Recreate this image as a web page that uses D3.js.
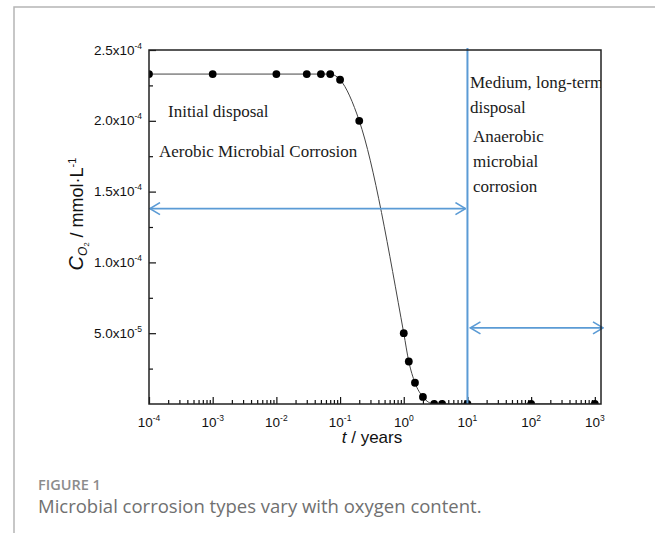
<!DOCTYPE html>
<html lang="en">
<head>
<meta charset="UTF-8">
<title>Oxygen content vs time</title>
<style>
  body { margin: 0; background: #fff; }
  svg text { font-family: "Liberation Sans", Arial, sans-serif; fill: #111; }
  .note { font-family: "Liberation Serif", "Times New Roman", serif; font-size: 17px; fill: #1a1a1a; }
  .caption { font-family: "Open Sans", "Noto Sans", sans-serif; }
</style>
</head>
<body>
<svg id="chart" width="655" height="533"></svg>
<script src="https://cdn.jsdelivr.net/npm/d3@7"></script>
<script>
// time in years, dissolved O2 in mmol/L
const years  = [1e-4, 1e-3, 1e-2, 0.03, 0.05, 0.07, 0.1, 0.2, 1, 1.2, 1.5, 2, 3, 4, 10, 100, 1000];
const oxygen = [2.33e-4, 2.33e-4, 2.33e-4, 2.33e-4, 2.33e-4, 2.33e-4, 2.29e-4, 2.0e-4,
                5.0e-5, 3.0e-5, 1.5e-5, 5e-6, 0, 0, 0, 0, 0];

const xTickExps = [-4, -3, -2, -1, 0, 1, 2, 3];
const yTicks = [5e-5, 1e-4, 1.5e-4, 2e-4, 2.5e-4];
const yTickMant = ["5.0", "1.0", "1.5", "2.0", "2.5"];
const yTickExp = ["-5", "-4", "-4", "-4", "-4"];

const phaseSplit = 10;              // years, aerobic -> anaerobic
const arrowLevels = [1.38e-4, 5.38e-5];
const leftNotes = ["Initial disposal", "Aerobic Microbial Corrosion"];
const rightNotes = ["Medium, long-term", "disposal", "Anaerobic", "microbial", "corrosion"];

const blue = "#5b9bd5";
const plot = { left: 149, right: 601, top: 50, bottom: 404 };

const svg = d3.select("#chart");

// page frame
svg.append("path")
    .attr("d", "M14,533 V7 H655")
    .attr("fill", "none")
    .attr("stroke", "#b5b5b5")
    .attr("stroke-width", 1.5);

const x = d3.scaleLog()
    .domain([1e-4, 1250])
    .range([plot.left, plot.right]);

const y = d3.scaleLinear()
    .domain([0, 2.5e-4])
    .range([plot.bottom, plot.top]);

svg.append("clipPath").attr("id", "clip")
    .append("rect")
    .attr("x", plot.left).attr("y", plot.top)
    .attr("width", plot.right - plot.left).attr("height", plot.bottom - plot.top);

// ticks (inward)
const majorX = xTickExps.map(e => Math.pow(10, e));
const minorX = [];
xTickExps.forEach(e => { for (let k = 2; k < 10; k++) { let v = k * Math.pow(10, e); if (v < 1250) minorX.push(v); } });

svg.append("g")
    .attr("transform", `translate(0,${plot.bottom})`)
    .call(d3.axisBottom(x).tickValues(majorX).tickSize(-7).tickFormat(""))
    .call(g => g.select(".domain").remove());
svg.append("g")
    .attr("transform", `translate(0,${plot.bottom})`)
    .call(d3.axisBottom(x).tickValues(minorX).tickSize(-4).tickFormat(""))
    .call(g => g.select(".domain").remove());

const minorY = d3.range(2.5e-5, 2.5e-4, 5e-5);
svg.append("g")
    .attr("transform", `translate(${plot.left},0)`)
    .call(d3.axisLeft(y).tickValues(yTicks).tickSize(-7).tickFormat(""))
    .call(g => g.select(".domain").remove());
svg.append("g")
    .attr("transform", `translate(${plot.left},0)`)
    .call(d3.axisLeft(y).tickValues(minorY).tickSize(-4).tickFormat(""))
    .call(g => g.select(".domain").remove());

svg.selectAll(".tick line").attr("stroke", "#111").attr("stroke-width", 1.2);

// x tick labels
const xl = svg.append("g").selectAll("text")
    .data(xTickExps).join("text")
    .attr("x", e => x(Math.pow(10, e)))
    .attr("y", plot.bottom + 23)
    .attr("text-anchor", "middle")
    .attr("font-size", 13.5);
xl.append("tspan").text("10");
xl.append("tspan").attr("dy", -6).attr("font-size", 8.5).text(e => e);

// y tick labels
const yl = svg.append("g").selectAll("text")
    .data(yTicks).join("text")
    .attr("x", plot.left - 7)
    .attr("y", d => y(d) + 4.5)
    .attr("text-anchor", "end")
    .attr("font-size", 13.5);
yl.append("tspan").text((d, i) => yTickMant[i] + "x10");
yl.append("tspan").attr("dy", -6).attr("font-size", 8.5).text((d, i) => yTickExp[i]);

// axis titles
const xt = svg.append("text")
    .attr("x", 372).attr("y", 443)
    .attr("text-anchor", "middle")
    .attr("font-size", 17);
xt.append("tspan").attr("font-style", "italic").text("t");
xt.append("tspan").text(" / years");

const yt = svg.append("text")
    .attr("transform", "translate(83,214) rotate(-90)")
    .attr("text-anchor", "middle")
    .attr("font-size", 18);
yt.append("tspan").attr("font-style", "italic").attr("font-size", 20).text("C");
yt.append("tspan").attr("font-style", "italic").attr("font-size", 12).attr("dy", 4).text("O");
yt.append("tspan").attr("font-size", 7.5).attr("dy", 2).text("2");
yt.append("tspan").attr("dy", -6).text(" / mmol·L");
yt.append("tspan").attr("font-size", 11).attr("dy", -7).text("-1");

// curve + points
const pts = years.map((t, i) => ({ t, c: oxygen[i] }));
const plotArea = svg.append("g").attr("clip-path", "url(#clip)");

plotArea.append("path")
    .datum(pts)
    .attr("fill", "none")
    .attr("stroke", "#444")
    .attr("stroke-width", 1)
    .attr("d", d3.line().x(d => x(d.t)).y(d => y(d.c)).curve(d3.curveMonotoneX));

plotArea.selectAll("circle")
    .data(pts).join("circle")
    .attr("cx", d => x(d.t))
    .attr("cy", d => y(d.c))
    .attr("r", 3.9)
    .attr("fill", "#000");

// notes
svg.append("g").selectAll("text")
    .data(leftNotes).join("text")
    .attr("class", "note")
    .attr("x", (d, i) => i === 0 ? 168 : 159)
    .attr("y", (d, i) => 117 + i * 40)
    .text(d => d);

plotArea.append("g").selectAll("text")
    .data(rightNotes).join("text")
    .attr("class", "note")
    .attr("x", (d, i) => i < 2 ? 470 : 473)
    .attr("y", (d, i) => i < 2 ? 88 + i * 25 : 142 + (i - 2) * 25)
    .text(d => d);

// phase boundary and arrows
const defs = svg.append("defs");
defs.append("marker")
    .attr("id", "chev")
    .attr("viewBox", "0 0 12 14")
    .attr("refX", 11).attr("refY", 7)
    .attr("markerWidth", 12).attr("markerHeight", 14)
    .attr("markerUnits", "userSpaceOnUse")
    .attr("orient", "auto-start-reverse")
    .append("path")
    .attr("d", "M1,1 L11,7 L1,13")
    .attr("fill", "none")
    .attr("stroke", blue)
    .attr("stroke-width", 1.6);

svg.append("line")
    .attr("x1", x(phaseSplit)).attr("x2", x(phaseSplit))
    .attr("y1", plot.top - 2).attr("y2", plot.bottom)
    .attr("stroke", blue).attr("stroke-width", 2);

const arrowSpans = [[x(1e-4) + 1, x(phaseSplit) - 2], [x(phaseSplit) + 3, plot.right + 2]];
svg.append("g").selectAll("line")
    .data(arrowLevels).join("line")
    .attr("x1", (d, i) => arrowSpans[i][0])
    .attr("x2", (d, i) => arrowSpans[i][1])
    .attr("y1", d => y(d)).attr("y2", d => y(d))
    .attr("stroke", blue).attr("stroke-width", 1.8)
    .attr("marker-start", "url(#chev)")
    .attr("marker-end", "url(#chev)");

// plot frame
svg.append("rect")
    .attr("x", plot.left).attr("y", plot.top)
    .attr("width", plot.right - plot.left).attr("height", plot.bottom - plot.top)
    .attr("fill", "none")
    .attr("stroke", "#222")
    .attr("stroke-width", 1.5);

// caption
svg.append("text").attr("class", "caption")
    .attr("x", 38).attr("y", 490)
    .attr("font-size", 14.5).attr("font-weight", 600)
    .style("fill", "#8c8c8c")
    .text("FIGURE 1");
svg.append("text").attr("class", "caption")
    .attr("x", 38).attr("y", 513)
    .attr("font-size", 18.5)
    .style("fill", "#707070")
    .text("Microbial corrosion types vary with oxygen content.");
</script>
</body>
</html>
